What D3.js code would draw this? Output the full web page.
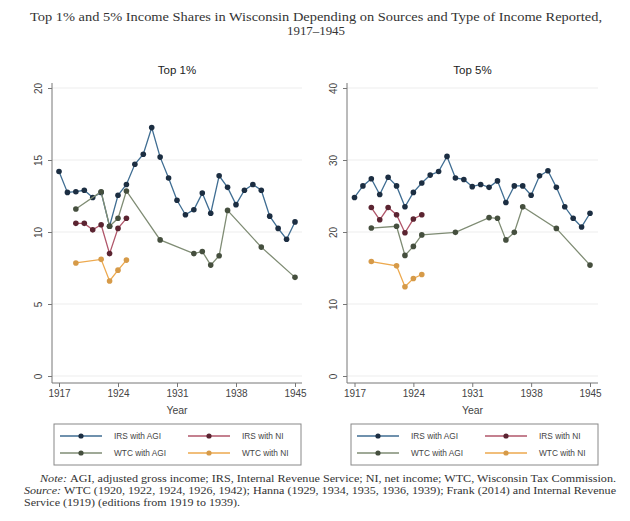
<!DOCTYPE html>
<html><head><meta charset="utf-8">
<script src="https://cdn.jsdelivr.net/npm/d3@7"></script>
<style>body{margin:0;background:#fff}svg{display:block}</style>
</head><body><svg id="c" width="630" height="521"></svg>
<script>
// ---------------- data ----------------
const years = [1917,1918,1919,1920,1921,1922,1923,1924,1925,1926,1927,1928,1929,1930,1931,1932,1933,1934,1935,1936,1937,1938,1939,1940,1941,1942,1943,1944,1945];
const irsNiYears = [1919,1920,1921,1922,1923,1924,1925];
const wtcAgiYears = [1919,1922,1923,1924,1925,1929,1933,1934,1935,1936,1937,1941,1945];
const wtcNiYears = [1919,1922,1923,1924,1925];

const top1IrsAgi = [14.2,12.75,12.8,12.9,12.4,12.75,10.4,12.55,13.3,14.7,15.4,17.25,15.2,13.75,12.2,11.2,11.55,12.7,11.3,13.9,13.1,11.9,12.9,13.3,12.9,11.1,10.25,9.5,10.7];
const top1IrsNi = [10.6,10.6,10.15,10.5,8.5,10.25,10.95];
const top1WtcAgi = [11.6,12.8,10.4,10.95,12.85,9.45,8.5,8.65,7.7,8.35,11.5,8.95,6.85];
const top1WtcNi = [7.85,8.1,6.6,7.35,8.05];

const top5IrsAgi = [24.8,26.4,27.4,25.2,27.6,26.4,23.5,25.5,26.8,27.9,28.4,30.5,27.5,27.3,26.3,26.6,26.2,27.1,24.1,26.4,26.4,25.1,27.8,28.5,26.2,23.5,21.9,20.7,22.6];
const top5IrsNi = [23.4,21.7,23.4,22.4,19.9,21.8,22.4];
const top5WtcAgi = [20.55,20.8,16.75,18.0,19.6,19.95,22.0,21.9,18.9,19.95,23.5,20.5,15.4];
const top5WtcNi = [15.9,15.3,12.4,13.55,14.1];

const xTicks = [1917,1924,1931,1938,1945];
const top1YTicks = [0,5,10,15,20];
const top5YTicks = [0,10,20,30,40];
const panelTitles = ["Top 1%","Top 5%"];
const seriesNames = ["IRS with AGI","IRS with NI","WTC with AGI","WTC with NI"];
const titleLines = ["Top 1% and 5% Income Shares in Wisconsin Depending on Sources and Type of Income Reported,","1917\u20131945"];

// ---------------- styles ----------------
const lineColors = ["#3f6d92","#b0566a","#7f8c74","#eda94e"];
const dotColors  = ["#1c2e42","#5b2431","#454f3e","#d69a48"];

const svg = d3.select("#c");
svg.append("rect").attr("width",630).attr("height",521).attr("fill","#fff");

// title
const tt = svg.append("g").attr("font-family","'Liberation Serif','Times New Roman',serif").attr("fill","#333");
tt.append("text").attr("x",316).attr("y",21).attr("text-anchor","middle").attr("font-size",12.5)
  .attr("textLength",572).attr("lengthAdjust","spacingAndGlyphs").text(titleLines[0]);
tt.append("text").attr("x",316).attr("y",35).attr("text-anchor","middle").attr("font-size",12.5)
  .attr("textLength",58).attr("lengthAdjust","spacingAndGlyphs").text(titleLines[1]);

const panels = [
  {title:panelTitles[0], axisX:52, right:302, xr:[59,295], ymax:20, yt:top1YTicks,
   series:[[years,top1IrsAgi],[irsNiYears,top1IrsNi],[wtcAgiYears,top1WtcAgi],[wtcNiYears,top1WtcNi]], legX:54},
  {title:panelTitles[1], axisX:347, right:598, xr:[354.5,590], ymax:40, yt:top5YTicks,
   series:[[years,top5IrsAgi],[irsNiYears,top5IrsNi],[wtcAgiYears,top5WtcAgi],[wtcNiYears,top5WtcNi]], legX:351}
];

const font = "'Liberation Sans',Arial,sans-serif";
panels.forEach(p => {
  const x = d3.scaleLinear().domain([1917,1945]).range(p.xr);
  const y = d3.scaleLinear().domain([0,p.ymax]).range([376,88]);
  const g = svg.append("g");

  g.append("text").attr("x",(p.axisX+p.right)/2).attr("y",74).attr("text-anchor","middle")
    .attr("font-family",font).attr("font-size",11.5).attr("fill","#222").text(p.title);

  g.append("g").selectAll("line").data(p.yt).join("line")
    .attr("x1",p.axisX).attr("x2",p.right).attr("y1",d=>y(d)).attr("y2",d=>y(d))
    .attr("stroke","#ededed").attr("stroke-width",1);

  const ya = g.append("g").attr("transform",`translate(${p.axisX},0)`)
    .call(d3.axisLeft(y).tickValues(p.yt).tickSize(4).tickPadding(6).tickFormat(d3.format("d")));
  ya.select(".domain").attr("d",`M0,83V383`).attr("stroke","#777");
  ya.selectAll(".tick line").attr("stroke","#777");
  ya.selectAll(".tick text").attr("font-family",font).attr("font-size",10).attr("fill","#444")
    .attr("transform","rotate(-90)").attr("x",0).attr("y",-14).attr("dy","0.35em").attr("text-anchor","middle");

  const xa = g.append("g").attr("transform","translate(0,383)")
    .call(d3.axisBottom(x).tickValues(xTicks).tickSize(4).tickPadding(3).tickFormat(d3.format("d")));
  xa.select(".domain").attr("d",`M${p.axisX},0H${p.right}`).attr("stroke","#777");
  xa.selectAll(".tick line").attr("stroke","#777");
  xa.selectAll(".tick text").attr("font-family",font).attr("font-size",10).attr("fill","#444");

  g.append("text").attr("x",(p.axisX+p.right)/2).attr("y",414).attr("text-anchor","middle")
    .attr("font-family",font).attr("font-size",10.5).attr("fill","#444").text("Year");

  const line = d3.line().x(d=>x(d[0])).y(d=>y(d[1]));
  p.series.forEach((s,i) => {
    const pts = s[0].map((yr,k)=>[yr,s[1][k]]);
    g.append("path").datum(pts).attr("d",line).attr("fill","none")
      .attr("stroke",lineColors[i]).attr("stroke-width",1.3);
    g.append("g").selectAll("circle").data(pts).join("circle")
      .attr("cx",d=>x(d[0])).attr("cy",d=>y(d[1])).attr("r",2.8).attr("fill",dotColors[i]);
  });

  const lg = g.append("g").attr("transform",`translate(${p.legX},424)`);
  lg.append("rect").attr("width",247).attr("height",41).attr("fill","#fff").attr("stroke","#888").attr("stroke-width",1);
  const pos = [[6,12],[134,12],[6,29],[134,29]];
  seriesNames.forEach((n,i) => {
    const [lx,ly] = pos[i];
    lg.append("line").attr("x1",lx).attr("x2",lx+42).attr("y1",ly).attr("y2",ly).attr("stroke",lineColors[i]).attr("stroke-width",1.3);
    lg.append("circle").attr("cx",lx+21).attr("cy",ly).attr("r",2.6).attr("fill",dotColors[i]);
    lg.append("text").attr("x",lx+54).attr("y",ly).attr("dy","0.35em").attr("font-family",font)
      .attr("font-size",8.3).attr("fill","#444").text(n);
  });
});

const nf = "'Liberation Serif','Times New Roman',serif";
const n1 = svg.append("text").attr("x",40).attr("y",482).attr("font-family",nf).attr("font-size",10).attr("fill","#333")
  .attr("textLength",576).attr("lengthAdjust","spacingAndGlyphs");
n1.append("tspan").attr("font-style","italic").text("Note: ");
n1.append("tspan").text("AGI, adjusted gross income; IRS, Internal Revenue Service; NI, net income; WTC, Wisconsin Tax Commission.");
const n2 = svg.append("text").attr("x",24).attr("y",494).attr("font-family",nf).attr("font-size",10).attr("fill","#333")
  .attr("textLength",592).attr("lengthAdjust","spacingAndGlyphs");
n2.append("tspan").attr("font-style","italic").text("Source: ");
n2.append("tspan").text("WTC (1920, 1922, 1924, 1926, 1942); Hanna (1929, 1934, 1935, 1936, 1939); Frank (2014) and Internal Revenue");
svg.append("text").attr("x",24).attr("y",506).attr("font-family",nf).attr("font-size",10).attr("fill","#333")
  .attr("textLength",216).attr("lengthAdjust","spacingAndGlyphs")
  .text("Service (1919) (editions from 1919 to 1939).");
</script>
</body></html>
